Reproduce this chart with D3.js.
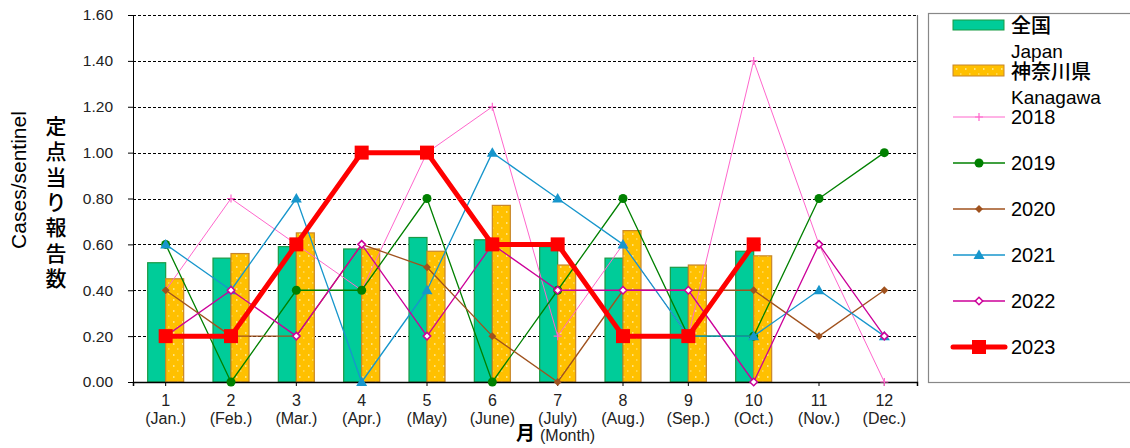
<!doctype html>
<html>
<head>
<meta charset="utf-8">
<title>定点当り報告数</title>
<script src="https://cdn.jsdelivr.net/npm/d3@7"></script>
<style>
  html, body { margin: 0; padding: 0; background: #fff; }
  svg { display: block; font-family: "Liberation Sans", Arial, sans-serif; }
  .grid line { stroke: #000; stroke-dasharray: 3,2; stroke-width: 1; }
</style>
</head>
<body>
<script>
// month categories and tick labels
var months = [1, 2, 3, 4, 5, 6, 7, 8, 9, 10, 11, 12];
var monthNames = ["(Jan.)", "(Feb.)", "(Mar.)", "(Apr.)", "(May)", "(June)", "(July)", "(Aug.)", "(Sep.)", "(Oct.)", "(Nov.)", "(Dec.)"];
var yTicks = [0, 0.2, 0.4, 0.6, 0.8, 1.0, 1.2, 1.4, 1.6];

// bars: 2023 national / Kanagawa
var national = [0.52, 0.54, 0.59, 0.58, 0.63, 0.62, 0.59, 0.54, 0.50, 0.57, null, null];
var kanagawa = [0.45, 0.56, 0.65, 0.58, 0.57, 0.77, 0.51, 0.66, 0.51, 0.55, null, null];

// lines by year
var y2018 = [0.4, 0.8, 0.6, 0.4, 1.0, 1.2, 0.2, 0.6, 0.2, 1.4, 0.6, 0.0];
var y2019 = [0.6, 0.0, 0.4, 0.4, 0.8, 0.0, 0.4, 0.8, 0.2, 0.2, 0.8, 1.0];
var y2020 = [0.4, 0.2, 0.2, 0.6, 0.5, 0.2, 0.0, 0.4, 0.4, 0.4, 0.2, 0.4];
var y2021 = [0.6, 0.4, 0.8, 0.0, 0.4, 1.0, 0.8, 0.6, 0.2, 0.2, 0.4, 0.2];
var y2022 = [0.2, 0.4, 0.2, 0.6, 0.2, 0.6, 0.4, 0.4, 0.4, 0.0, 0.6, 0.2];
var y2023 = [0.2, 0.2, 0.6, 1.0, 1.0, 0.6, 0.6, 0.2, 0.2, 0.6, null, null];

var width = 1130, height = 448;
var plotL = 133, plotR = 917, plotT = 15, plotB = 382;

var svg = d3.select("body").append("svg")
    .attr("width", width)
    .attr("height", height);

var defs = svg.append("defs");
var pat = defs.append("pattern")
    .attr("id", "dots")
    .attr("patternUnits", "userSpaceOnUse")
    .attr("width", 9).attr("height", 11);
pat.append("rect").attr("width", 9).attr("height", 11).attr("fill", "#FFC000");
pat.append("rect").attr("x", 2).attr("y", 2).attr("width", 1.5).attr("height", 2).attr("fill", "#FFE27A");
pat.append("rect").attr("x", 6).attr("y", 7).attr("width", 1.5).attr("height", 2).attr("fill", "#FFD54A");

var x = d3.scaleBand().domain(months).range([plotL, plotR]);
var xSub = d3.scaleBand().domain(["national", "kanagawa"]).range([0, x.bandwidth()]).paddingOuter(0.815);
var y = d3.scaleLinear().domain([0, 1.6]).range([plotB, plotT]);

// gridlines
svg.append("g").attr("class", "grid")
    .selectAll("line")
    .data(yTicks.filter(function (d) { return d > 0; }))
    .enter().append("line")
    .attr("x1", plotL).attr("x2", plotR)
    .attr("y1", function (d) { return Math.round(y(d)) + 0.5; })
    .attr("y2", function (d) { return Math.round(y(d)) + 0.5; });

// right border of plot
svg.append("line")
    .attr("x1", plotR + 0.5).attr("x2", plotR + 0.5)
    .attr("y1", plotT).attr("y2", plotB)
    .attr("stroke", "#777").attr("stroke-width", 1.2);

// bars
var barData = [];
months.forEach(function (m, i) {
    if (national[i] != null) barData.push({ m: m, key: "national", v: national[i] });
    if (kanagawa[i] != null) barData.push({ m: m, key: "kanagawa", v: kanagawa[i] });
});

svg.append("g").selectAll("rect")
    .data(barData)
    .enter().append("rect")
    .attr("x", function (d) { return x(d.m) + xSub(d.key); })
    .attr("width", xSub.bandwidth())
    .attr("y", function (d) { return y(d.v); })
    .attr("height", function (d) { return y(0) - y(d.v); })
    .attr("fill", function (d) { return d.key == "national" ? "#00CC99" : "url(#dots)"; })
    .attr("stroke", function (d) { return d.key == "national" ? "#1A9B45" : "#C8862A"; })
    .attr("stroke-width", 1.2);

// axes
var yAxis = d3.axisLeft(y).tickValues(yTicks).tickFormat(d3.format(".2f")).tickSize(5).tickPadding(15);
var gy = svg.append("g").attr("transform", "translate(" + plotL + ",0)").call(yAxis);
gy.select(".domain").attr("stroke", "#000");
gy.selectAll("text").attr("font-size", 15.5).attr("fill", "#222").attr("font-family", "Liberation Sans, Arial");

var xAxis = d3.axisBottom(x).tickSize(4).tickFormat("");
var gx = svg.append("g").attr("transform", "translate(0," + plotB + ")").call(xAxis);
gx.select(".domain").attr("stroke", "#000").attr("stroke-width", 1.5);

var xl = svg.append("g").selectAll("g")
    .data(months)
    .enter().append("g")
    .attr("transform", function (d) { return "translate(" + (x(d) + x.bandwidth() / 2) + ",0)"; });
xl.append("text")
    .attr("y", 406).attr("text-anchor", "middle").attr("font-size", 16).attr("fill", "#222")
    .text(function (d) { return d; });
xl.append("text")
    .attr("y", 424).attr("text-anchor", "middle").attr("font-size", 16).attr("fill", "#222")
    .text(function (d, i) { return monthNames[i]; });

svg.append("text").attr("x", 516).attr("y", 440).attr("font-size", 19)
    .attr("font-family", "Noto Sans CJK JP").attr("font-weight", "bold").text("月");
svg.append("text").attr("x", 540).attr("y", 441).attr("font-size", 16).attr("fill", "#222").text("(Month)");

// y titles
svg.append("text")
    .attr("transform", "translate(26,180) rotate(-90)")
    .attr("text-anchor", "middle").attr("font-size", 21)
    .text("Cases/sentinel");
var jt = "定点当り報告数".split("");
svg.append("g").selectAll("text")
    .data(jt).enter().append("text")
    .attr("x", 56).attr("y", function (d, i) { return 134 + i * 25.3; })
    .attr("text-anchor", "middle").attr("font-size", 21)
    .attr("font-family", "Noto Sans CJK JP").attr("font-weight", "500")
    .text(function (d) { return d; });

// series lines
var series = [
    { name: "2018", data: y2018, color: "#FF66CC", w: 1, mark: "plus" },
    { name: "2019", data: y2019, color: "#008000", w: 1.3, mark: "circle" },
    { name: "2020", data: y2020, color: "#A0521E", w: 1.3, mark: "diamond" },
    { name: "2021", data: y2021, color: "#1796CC", w: 1.3, mark: "triangle" },
    { name: "2022", data: y2022, color: "#CC0099", w: 1.3, mark: "open" },
    { name: "2023", data: y2023, color: "#FF0000", w: 5, mark: "square" }
];

function cx(m) { return x(m) + x.bandwidth() / 2; }

function drawMarker(g, s, px, py) {
    if (s.mark == "plus") {
        g.append("path").attr("d", "M" + (px - 4) + "," + py + "h8M" + px + "," + (py - 4) + "v8")
            .attr("stroke", s.color).attr("stroke-width", 1.2);
    } else if (s.mark == "circle") {
        g.append("circle").attr("cx", px).attr("cy", py).attr("r", 4.5).attr("fill", s.color);
    } else if (s.mark == "diamond") {
        g.append("path").attr("d", d3.symbol(d3.symbolDiamond2, 40)())
            .attr("transform", "translate(" + px + "," + py + ")").attr("fill", s.color);
    } else if (s.mark == "triangle") {
        g.append("path").attr("d", "M" + px + "," + (py - 5.5) + "L" + (px + 5.5) + "," + (py + 4) + "L" + (px - 5.5) + "," + (py + 4) + "Z")
            .attr("fill", s.color);
    } else if (s.mark == "open") {
        g.append("path").attr("d", d3.symbol(d3.symbolDiamond2, 36)())
            .attr("transform", "translate(" + px + "," + py + ")")
            .attr("fill", "#fff").attr("stroke", s.color).attr("stroke-width", 1.5);
    } else if (s.mark == "square") {
        g.append("rect").attr("x", px - 7).attr("y", py - 7).attr("width", 14).attr("height", 14).attr("fill", s.color);
    }
}

var line = d3.line()
    .defined(function (d) { return d.v != null; })
    .x(function (d) { return cx(d.m); })
    .y(function (d) { return y(d.v); });

series.forEach(function (s) {
    var pts = months.map(function (m, i) { return { m: m, v: s.data[i] }; });
    var g = svg.append("g");
    g.append("path").datum(pts)
        .attr("d", line)
        .attr("fill", "none")
        .attr("stroke", s.color)
        .attr("stroke-width", s.w)
        .attr("stroke-linejoin", "round");
    pts.forEach(function (p) {
        if (p.v != null) drawMarker(g, s, cx(p.m), y(p.v));
    });
});

// legend
svg.append("rect")
    .attr("x", 928.5).attr("y", 13.5).attr("width", 220).attr("height", 369)
    .attr("fill", "none").attr("stroke", "#888").attr("stroke-width", 1.2);

var lg = svg.append("g");
lg.append("rect").attr("x", 953).attr("y", 20).attr("width", 51).attr("height", 10)
    .attr("fill", "#00CC99").attr("stroke", "#1A9B45");
lg.append("text").attr("x", 1011).attr("y", 33).attr("font-size", 20)
    .attr("font-family", "Noto Sans CJK JP").attr("font-weight", "500").text("全国");
lg.append("text").attr("x", 1011).attr("y", 58).attr("font-size", 19).text("Japan");
lg.append("rect").attr("x", 953).attr("y", 65).attr("width", 51).attr("height", 11)
    .attr("fill", "url(#dots)").attr("stroke", "#C8862A");
lg.append("text").attr("x", 1011).attr("y", 79).attr("font-size", 20)
    .attr("font-family", "Noto Sans CJK JP").attr("font-weight", "500").text("神奈川県");
lg.append("text").attr("x", 1011).attr("y", 104).attr("font-size", 19).text("Kanagawa");

series.forEach(function (s, i) {
    var ly = 117 + i * 46;
    var g = lg.append("g");
    g.append("line").attr("x1", 953).attr("x2", 1005).attr("y1", ly).attr("y2", ly)
        .attr("stroke", s.color).attr("stroke-width", s.w)
        .attr("stroke-linecap", s.mark == "square" ? "round" : "butt");
    drawMarker(g, s, 979, ly);
    g.append("text").attr("x", 1011).attr("y", ly + 7).attr("font-size", 20).text(s.name);
});
</script>
</body>
</html>
